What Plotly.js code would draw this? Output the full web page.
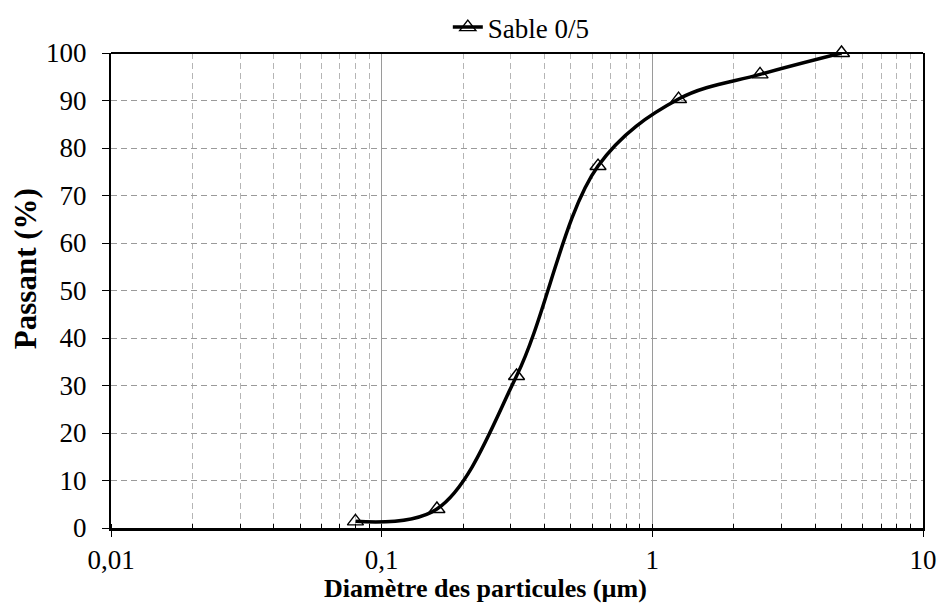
<!DOCTYPE html>
<html>
<head>
<meta charset="utf-8">
<script src="https://cdn.plot.ly/plotly-3.0.1.min.js"></script>
<style>
  html, body { margin: 0; padding: 0; background: #fff; }
  #chart { width: 941px; height: 612px; }
</style>
</head>
<body>
<div id="chart"></div>
<script>
// Sieve sizes and cumulative passing percentages
const diametres = [0.08, 0.16, 0.315, 0.63, 1.25, 2.5, 5];
const passant = [1.4, 4, 32, 76.2, 90.3, 95.5, 100];
const serieNom = 'Sable 0/5';
const xTickVals = [0.01, 0.1, 1, 10];
const xTickText = ['0,01', '0,1', '1', '10'];
const titreX = 'Diamètre des particules (µm)';
const titreY = 'Passant (%)';

const font = '"Liberation Serif", "Times New Roman", serif';

const trace = {
  x: diametres,
  y: passant,
  name: serieNom,
  type: 'scatter',
  mode: 'lines+markers',
  line: { color: '#000', width: 3.5, shape: 'spline', smoothing: 1 },
  marker: { symbol: 'triangle-up-open', size: 14, color: '#000', line: { width: 1.4, color: '#000' } },
  cliponaxis: false
};

const layout = {
  width: 941,
  height: 612,
  margin: { l: 111, r: 18, t: 53, b: 84 },
  paper_bgcolor: '#fff',
  plot_bgcolor: '#fff',
  font: { family: font, size: 27, color: '#000' },
  showlegend: true,
  legend: {
    orientation: 'h',
    xref: 'container', yref: 'container',
    x: 0.554, xanchor: 'center',
    y: 0.955, yanchor: 'middle',
    font: { family: font, size: 27, color: '#000' },
    bgcolor: 'rgba(0,0,0,0)'
  },
  xaxis: {
    type: 'log',
    range: [-2, 1],
    tickvals: xTickVals,
    ticktext: xTickText,
    ticks: 'outside',
    ticklen: 6,
    tickwidth: 1,
    tickcolor: '#000',
    showline: true,
    linecolor: '#000',
    linewidth: 3,
    mirror: false,
    showgrid: true,
    gridcolor: '#9a9a9a',
    gridwidth: 1,
    zeroline: false,
    automargin: false,
    tickfont: { family: font, size: 27, color: '#000' },
    minor: {
      dtick: 'D1',
      ticks: 'inside',
      ticklen: 4,
      tickcolor: '#000',
      showgrid: true,
      gridcolor: '#b5b5b5',
      griddash: '6px,4px',
      gridwidth: 1
    }
  },
  yaxis: {
    range: [0, 100],
    dtick: 10,
    ticks: 'outside',
    ticklen: 7,
    tickwidth: 1,
    tickcolor: '#000',
    ticklabelstandoff: 10,
    showline: true,
    linecolor: '#000',
    linewidth: 2,
    mirror: true,
    showgrid: true,
    gridcolor: '#9a9a9a',
    griddash: '6px,4px',
    gridwidth: 1,
    zeroline: false,
    automargin: false,
    tickfont: { family: font, size: 27, color: '#000' }
  },
  annotations: [
    {
      text: '<b>' + titreX + '</b>', xref: 'paper', yref: 'paper',
      x: 0.4606, y: -0.128, xanchor: 'center', yanchor: 'middle', showarrow: false,
      font: { family: font, size: 26, color: '#000' }
    },
    {
      text: '<b>' + titreY + '</b>', xref: 'paper', yref: 'paper', textangle: -90,
      x: -0.1059, y: 0.545, xanchor: 'center', yanchor: 'middle', showarrow: false,
      font: { family: font, size: 31, color: '#000' }
    }
  ],
  shapes: [
    { type: 'line', xref: 'paper', yref: 'paper', x0: 0, x1: 1, y0: 1, y1: 1, line: { color: '#000', width: 2 } }
  ]
};

Plotly.newPlot('chart', [trace], layout, { displayModeBar: false, staticPlot: true });
</script>
</body>
</html>
